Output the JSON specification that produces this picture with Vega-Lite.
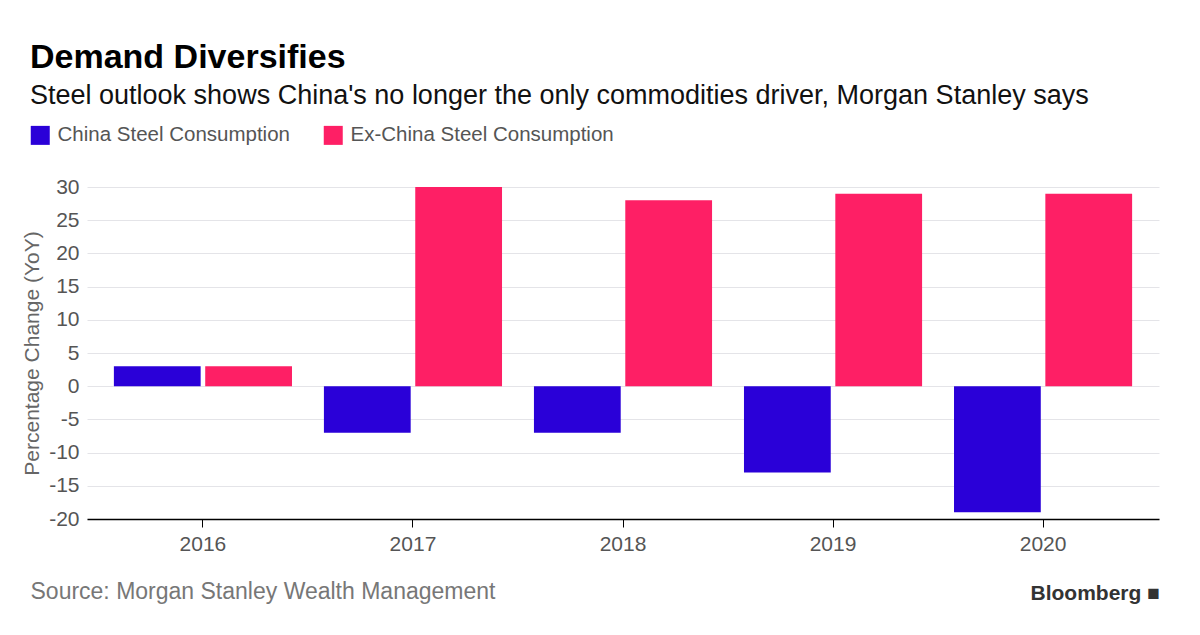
{
  "$schema": "https://vega.github.io/schema/vega-lite/v6.json",
  "width": 1072,
  "height": 332,
  "autosize": "none",
  "padding": {"left": 87, "top": 187, "right": 41, "bottom": 116},
  "background": "white",
  "config": {
    "font": "Liberation Sans",
    "view": {"stroke": null}
  },
  "title": {
    "text": "Demand Diversifies",
    "subtitle": "Steel outlook shows China's no longer the only commodities driver, Morgan Stanley says",
    "anchor": "start",
    "frame": "group",
    "dx": -57,
    "offset": 16,
    "fontSize": 34,
    "fontWeight": "bold",
    "color": "#000000",
    "subtitleFontSize": 27,
    "subtitleColor": "#111111",
    "subtitlePadding": 8
  },
  "data": {
    "values": [
      {"year": "2016", "series": "China Steel Consumption", "value": 3},
      {"year": "2016", "series": "Ex-China Steel Consumption", "value": 3},
      {"year": "2017", "series": "China Steel Consumption", "value": -7},
      {"year": "2017", "series": "Ex-China Steel Consumption", "value": 30},
      {"year": "2018", "series": "China Steel Consumption", "value": -7},
      {"year": "2018", "series": "Ex-China Steel Consumption", "value": 28},
      {"year": "2019", "series": "China Steel Consumption", "value": -13},
      {"year": "2019", "series": "Ex-China Steel Consumption", "value": 29},
      {"year": "2020", "series": "China Steel Consumption", "value": -19},
      {"year": "2020", "series": "Ex-China Steel Consumption", "value": 29}
    ]
  },
  "encoding": {
    "x": {
      "field": "year",
      "type": "nominal",
      "scale": {"paddingInner": 0.152, "paddingOuter": 0.128},
      "axis": {
        "labelAngle": 0,
        "labelFontSize": 21,
        "labelColor": "#555555",
        "labelPadding": 6,
        "domainColor": "#000000",
        "domainWidth": 1.5,
        "tickColor": "#000000",
        "tickSize": 8,
        "tickWidth": 1,
        "grid": false,
        "title": "Source: Morgan Stanley Wealth Management",
        "titleFontSize": 23,
        "titleFontWeight": "normal",
        "titleColor": "#777777",
        "titleX": -57,
        "titleY": 79,
        "titleAlign": "left",
        "titleBaseline": "alphabetic"
      }
    },
    "xOffset": {
      "field": "series",
      "type": "nominal",
      "scale": {"paddingInner": 0.05, "paddingOuter": 0}
    },
    "y": {
      "field": "value",
      "type": "quantitative",
      "scale": {"domain": [-20, 30], "nice": false, "zero": false}
    },
    "color": {
      "field": "series",
      "type": "nominal",
      "scale": {
        "domain": ["China Steel Consumption", "Ex-China Steel Consumption"],
        "range": ["#2a00d8", "#fe1f65"]
      },
      "legend": {
        "orient": "none",
        "legendX": -57,
        "legendY": -62,
        "direction": "horizontal",
        "title": null,
        "symbolType": "square",
        "symbolSize": 361,
        "symbolStrokeWidth": 0,
        "symbolOpacity": 1,
        "labelFontSize": 20.5,
        "labelColor": "#555555",
        "labelOffset": 7,
        "columnPadding": 33,
        "labelLimit": 400
      }
    }
  },
  "layer": [
    {
      "mark": {"type": "bar", "cornerRadius": 0},
      "encoding": {
        "y": {
          "field": "value",
          "type": "quantitative",
          "axis": {
            "values": [-20, -15, -10, -5, 0, 5, 10, 15, 20, 25, 30],
            "labelExpr": "'' + datum.value",
            "domain": false,
            "ticks": false,
            "gridColor": "#e4e4e8",
            "gridWidth": 1,
            "labelFontSize": 21,
            "labelColor": "#555555",
            "labelPadding": 8,
            "title": "Percentage Change (YoY)",
            "titleFontSize": 21,
            "titleFontWeight": "normal",
            "titleColor": "#666666",
            "titlePadding": 6
          }
        }
      }
    },
    {
      "mark": {"type": "bar", "opacity": 0},
      "encoding": {
        "y": {
          "field": "value",
          "type": "quantitative",
          "axis": {
            "orient": "right",
            "labels": false,
            "ticks": false,
            "domain": false,
            "grid": false,
            "title": "Bloomberg ■",
            "titleAngle": 0,
            "titleX": -129,
            "titleY": 412,
            "titleAlign": "left",
            "titleBaseline": "alphabetic",
            "titleFontSize": 21,
            "titleFontWeight": "bold",
            "titleColor": "#333333"
          }
        }
      }
    }
  ],
  "resolve": {"axis": {"y": "independent"}}
}
